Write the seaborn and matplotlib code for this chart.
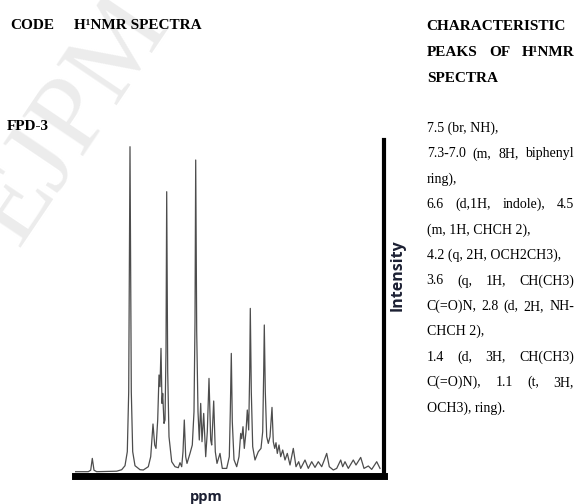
import matplotlib
matplotlib.use("Agg")
import matplotlib.pyplot as plt
import seaborn as sns
import pandas as pd

# trace
# shift: position along the axis (axis units), intensity: height above baseline
shift = [0, 13.3, 15.7, 17.3, 19, 21.7, 41.7, 46.7, 50, 52.3, 53.7, 55, 56.3, 57.7, 60, 65,
         68.3, 73.3, 75.7, 78, 79.7, 81, 82.7, 84, 85, 86, 87, 87.7, 89, 90, 91, 91.7, 92.7,
         94, 96.7, 100, 103.3, 105, 106.7, 108, 109.3, 110.7, 112, 115, 117.3, 119, 120, 120.7,
         121.7, 123, 124.3, 125.7, 127, 128.7, 130.7, 132.3, 134, 135.7, 136.7, 138.7, 140.3,
         142, 145, 147.3, 151.7, 154.3, 155.3, 156.3, 157.3, 159, 161.7, 164, 165.7, 166.7, 168,
         169.3, 171, 172.3, 173.7, 174.7, 175.3, 176.3, 177.7, 180, 183.3, 186, 187.7, 188.7,
         189.3, 190.3, 191.7, 193.3, 195, 197, 198.3, 199.7, 201, 202.3, 204, 205.7, 207.7, 210,
         212.3, 215, 218.3, 221, 223.7, 225.7, 230, 233.3, 236.7, 240, 243.3, 246.7, 249.3,
         251.7, 254.3, 258.3, 261.7, 265.7, 267.7, 270, 273.3, 278.3, 281, 285.7, 289, 293.3,
         296.7, 301.7, 305]
intensity = [0, 0, 1.5, 13.3, 1.5, 0, 0.5, 2, 6, 20, 80, 325, 80, 20, 6, 2,
             1.7, 5, 15, 47.7, 26.7, 23.3, 51.7, 96.7, 85, 123.3, 68.3, 78.3, 48.3, 51.7, 120, 280, 100,
             35, 10, 5, 4, 9, 5, 20, 51.7, 15, 8.3, 18.3, 26.7, 60, 150, 311.7,
             140, 60, 31.7, 68.3, 30, 58.3, 15, 40, 93.3, 31.7, 26.7, 70.7, 20,
             8.3, 18.3, 3.3, 3.3, 15, 60, 118.3, 50, 12, 5, 15, 38.3, 33, 45,
             23.3, 40, 61.7, 41.7, 100, 163.3, 80, 25, 11.7, 20, 23.3, 40, 100,
             146.7, 80, 35, 28.3, 35, 64.3, 30, 23.3, 29, 18.3, 26.7, 15, 21.7, 11.7,
             18.3, 6.7, 23.3, 5, 10, 3.3, 11.7, 3.3, 10, 4.3, 10, 5, 11.7,
             18.3, 5, 1.7, 3.3, 11.7, 5, 10, 3.3, 11.7, 6.7, 14.3, 3.3, 5.7,
             2.3, 10, 3.3]

code_label = "FPD-3"
head_code = "CODE"
head_spectra = "H\u00b9NMR SPECTRA"
head_right = ["CHARACTERISTIC", "PEAKS OF H\u00b9NMR", "SPECTRA"]
head_right_just = [False, True, False]
peak_lines = ["7.5 (br, NH),",
              "7.3-7.0 (m, 8H, biphenyl",
              "ring),",
              "6.6 (d,1H, indole), 4.5",
              "(m, 1H, CHCH 2),",
              "4.2 (q, 2H, OCH2CH3),",
              "3.6 (q, 1H, CH(CH3)",
              "C(=O)N, 2.8 (d, 2H, NH-",
              "CHCH 2),",
              "1.4 (d, 3H, CH(CH3)",
              "C(=O)N), 1.1 (t, 3H,",
              "OCH3), ring)."]
peak_just = [False, True, False, True, False, False, True, True, False, True, True, False]

W, H = 579, 504
fig = plt.figure(figsize=(W / 100, H / 100), dpi=100, facecolor="white")
renderer = fig.canvas.get_renderer()

serif = "Liberation Serif"

# faint watermark behind everything
fig.text(72 / W, 1 - 120 / H, "EJPM", rotation=56, color="#ececec", fontsize=80,
         family=serif, ha="center", va="center", zorder=0)


def put_line(text, x0, x1, y, justify, **kw):
    if not justify:
        fig.text(x0 / W, 1 - y / H, text, va="baseline", **kw)
        return
    words = text.split()
    ts = [fig.text(0, 1 - y / H, w, va="baseline", **kw) for w in words]
    widths = [t.get_window_extent(renderer=renderer).width for t in ts]
    gap = (x1 - x0 - sum(widths)) / (len(words) - 1)
    x = x0
    for t, w in zip(ts, widths):
        t.set_x(x / W)
        x += w + gap


bold = dict(family=serif, fontweight="bold", fontsize=11, color="black")
put_line(head_code, 10, 0, 29, False, **bold)
put_line(head_spectra, 74, 0, 29, False, **bold)
put_line(code_label, 7, 0, 130, False, **bold)
for i, (txt, j) in enumerate(zip(head_right, head_right_just)):
    put_line(txt, 426.7, 575, 30 + i * 26, j, **bold)

body = dict(family=serif, fontsize=10, color="black")
for i, (txt, j) in enumerate(zip(peak_lines, peak_just)):
    put_line(txt, 426.7, 574, 132 + i * 25.4, j, **body)

# spectrum panel
ax = fig.add_axes([75 / W, 28 / H, (383.8 - 75) / W, (476 - 140) / H])
ax.set_facecolor("none")
df = pd.DataFrame({"shift": shift, "intensity": intensity})
sns.lineplot(data=df, x="shift", y="intensity", ax=ax, color="#4d4d4d",
             linewidth=0.9, estimator=None, sort=False)
ax.set_xlim(0, 308.8)
ax.set_ylim(-4.3, 331.7)
ax.set_xticks([])
ax.set_yticks([])
ax.set_xlabel("")
ax.set_ylabel("")
for s in ["left", "top"]:
    ax.spines[s].set_visible(False)
ax.spines["bottom"].set_linewidth(5)
ax.spines["bottom"].set_color("black")
ax.spines["right"].set_linewidth(3)
ax.spines["right"].set_color("black")
ax.spines["bottom"].set_capstyle("projecting")

sans = ["Open Sans", "DejaVu Sans"]
fig.text(397.5 / W, 1 - 275 / H, "Intensity", rotation=90, family=sans,
         fontweight="bold", fontsize=11.5, color="#1c2033", ha="center", va="center")
fig.text(206 / W, 1 - 501.5 / H, "ppm", family=sans, fontweight="bold",
         fontsize=10.5, color="#1c2033", ha="center", va="baseline")

fig.savefig("out.png", dpi=100, facecolor="white")
